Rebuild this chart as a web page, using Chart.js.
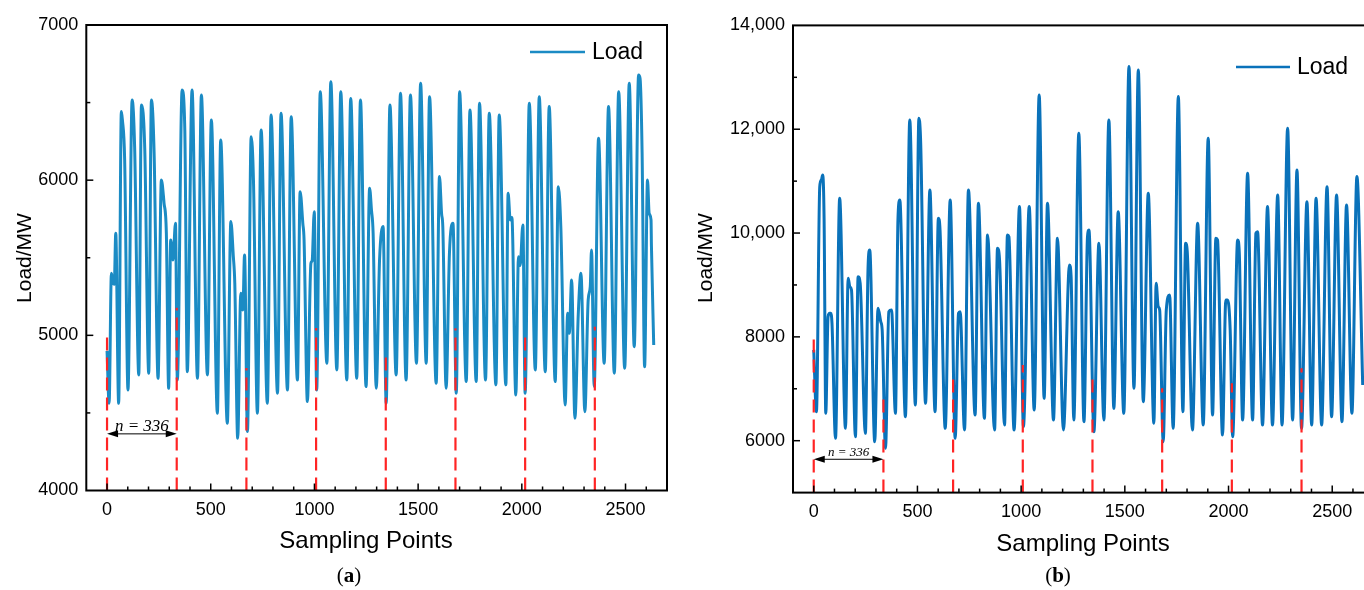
<!DOCTYPE html>
<html><head><meta charset="utf-8">
<script src="https://cdn.jsdelivr.net/npm/chart.js@4.4.1/dist/chart.umd.min.js"></script>
<style>
html,body{margin:0;padding:0;background:#fff;overflow:hidden;width:1364px;height:590px;position:relative}
canvas{position:absolute;top:0}
#ca{left:0}
#cb{left:690px}
.cap{position:absolute;top:563px;font-family:'Liberation Serif','Times New Roman',serif;font-size:21px;color:#000;transform:translateX(-50%);white-space:nowrap}
</style></head><body>
<canvas id="ca" width="690" height="590"></canvas>
<canvas id="cb" width="700" height="590"></canvas>
<div class="cap" style="left:349px">(<b>a</b>)</div>
<div class="cap" style="left:1058px">(<b>b</b>)</div>
<script>
// ---------- data ----------
const loadA_x = [0,10,21,30,35,42,56,69,74,85,101,121,133,153,166,182,201,214,227,246,262,275,286,297,307,318,330,339,362,375,387,410,436,455,484,503,532,548,
580,597,609,616,630,645,655,663,677,695,706,725,743,773,791,822,839,870,888,918,931,944,950,966,983,989,999,1011,1028,1060,1079,1108,1127,1156,1175,1204,
1222,1249,1266,1275,1283,1298,1314,1331,1346,1364,1394,1415,1442,1463,1492,1512,1539,1555,1587,1603,1613,1619,1635,1651,1668,1684,1700,1732,1750,1780,1796,1825,
1843,1875,1891,1923,1934,1944,1952,1971,1984,1992,2005,2016,2036,2065,2084,2113,2132,2161,2176,2188,2209,2221,2229,2240,2256,2272,2285,2304,2320,2330,2336,2349,
2370,2397,2418,2446,2467,2496,2518,2542,2563,2570,2580,2592,2606,2614,2623,2625,2636];
const loadA_y = [4900,4562,5400,5335,5330,5658,4562,6442,6390,6130,4648,6517,6216,4745,6485,6195,4756,6517,6173,4723,6001,5851,5658,4659,5615,5486,5722,4712,6581,6323,4766,6581,4723,6549,4745,6388,4498,6259,
4433,5733,5507,5335,4337,5271,5164,5518,4380,6280,6001,4498,6323,4562,6420,4627,6431,4648,6409,4712,5926,5722,5615,4573,5464,5480,5797,4648,6570,4820,6635,4777,6570,4712,6527,4723,
6517,4670,5948,5808,5658,4659,5486,5701,4562,6485,4745,6560,4712,6549,4820,6624,4820,6538,4691,6023,5786,5700,4659,5529,5722,4627,6570,4702,6452,4702,6495,4712,
6431,4681,6420,4681,5915,5744,5760,4616,5507,5450,5711,4627,6495,4777,6538,4766,6474,4702,5958,5701,4551,5142,5013,5357,4466,5131,5400,4508,5228,5314,5550,4670,
6270,4820,6474,4756,6570,4788,6624,4927,6678,6657,6173,4798,6001,5786,5744,5572,4938];

const loadB_x = [0,13,29,37,43,50,58,69,77,82,88,105,125,153,166,174,182,201,214,224,249,262,270,294,310,323,330,346,362,375,394,406,415,442,463,490,507,516,539,560,
585,601,609,634,658,682,698,706,727,746,778,794,823,838,872,886,896,920,934,941,966,992,1011,1039,1063,1087,1111,1127,1156,1175,1204,
1233,1241,1254,1278,1303,1320,1327,1351,1375,1399,1423,1447,1468,1495,1520,1544,1565,1589,1613,1640,1651,1661,1668,1685,1700,1716,1733,1758,1780,1793,1801,1826,
1851,1878,1902,1923,1939,1947,1971,1987,1995,2008,2020,2044,2052,2068,2092,2116,2132,2140,2164,2188,2212,2237,2258,2285,2309,2330,2352,2378,2401,2422,2449,2475,2497,2521,2547,2569,2595,2619,2647];
const loadB_y = [7750,6559,10894,11023,11119,10252,6527,8389,8454,8454,8261,6045,10669,6238,9128,8967,8903,6077,9160,9030,6141,9353,9674,5981,8550,8293,8132,5852,8486,8518,6527,10252,10637,6462,12179,6687,12211,11697,6719,10830,
6559,10284,10059,6238,10637,6045,8454,8486,6206,10830,6495,10573,6430,9963,6206,9706,9481,6302,9963,9931,6206,10509,6270,10509,6591,12661,6816,10573,6398,9899,6206,
9385,9160,6398,11922,6366,9931,10059,6173,9803,6398,12179,6623,10412,6527,13207,7008,13143,6751,10766,6334,9032,8582,8518,5981,8518,8807,6238,12629,6559,9803,9642,6206,
10188,6302,11826,6495,9899,9867,6109,8711,8711,8132,6077,9867,9610,6398,11151,6398,9995,10027,6302,10509,6302,10734,6302,12018,6398,11215,6238,10605,6302,10669,6302,10894,6462,10734,6366,10541,6527,11087,7073];

const weekMarks = [0,336,672,1008,1344,1680,2016,2352];
const markTopA = [5015,5177,4790,5048,4895,5046,5024,5056];
const markTopB = [8037,6880,7300,7458,7300,7010,7106,7395];

const xTickVals = [0,500,1000,1500,2000,2500];
const xTickLabels = ['0','500','1000','1500','2000','2500'];
const yTickValsA = [4000,5000,6000,7000];
const yTickLabelsA = ['4000','5000','6000','7000'];
const yTickValsB = [6000,8000,10000,12000,14000];
const yTickLabelsB = ['6000','8000','10,000','12,000','14,000'];

// ---------- drawing ----------
const SANS = "'Liberation Sans', Arial, sans-serif";
const SERIF = "'Liberation Serif', 'Times New Roman', serif";

const framePlugin = {
  id: 'frame',
  afterDatasetsDraw(chart, args, o) {
    const {ctx, chartArea: a} = chart;
    const x = chart.scales.x, y = chart.scales.y;
    ctx.save();
    ctx.strokeStyle = '#000';
    ctx.lineWidth = 2;
    ctx.strokeRect(a.left, a.top, a.right - a.left, a.bottom - a.top);
    ctx.lineWidth = 1.5;
    for (let v = x.min; v <= x.max; v += o.xMinor) {
      if (v <= x.min || v >= x.max) continue;
      const px = x.getPixelForValue(v);
      const len = (v % o.xMajor === 0) ? 7 : 4;
      ctx.beginPath(); ctx.moveTo(px, a.bottom); ctx.lineTo(px, a.bottom - len); ctx.stroke();
    }
    for (let v = y.min; v <= y.max; v += o.yMinor) {
      if (v <= y.min || v >= y.max) continue;
      const py = y.getPixelForValue(v);
      const len = (o.yMajorVals.includes(v)) ? 7 : 4;
      ctx.beginPath(); ctx.moveTo(a.left, py); ctx.lineTo(a.left + len, py); ctx.stroke();
    }
    // n = 336 arrow
    const ay = y.getPixelForValue(o.arrowY);
    const x0 = x.getPixelForValue(o.arrowX[0]), x1 = x.getPixelForValue(o.arrowX[1]);
    ctx.lineWidth = 1;
    ctx.beginPath(); ctx.moveTo(x0 + 8, ay); ctx.lineTo(x1 - 8, ay); ctx.stroke();
    ctx.fillStyle = '#000';
    ctx.beginPath(); ctx.moveTo(x0, ay); ctx.lineTo(x0 + 11, ay - 3.5); ctx.lineTo(x0 + 11, ay + 3.5); ctx.closePath(); ctx.fill();
    ctx.beginPath(); ctx.moveTo(x1, ay); ctx.lineTo(x1 - 11, ay - 3.5); ctx.lineTo(x1 - 11, ay + 3.5); ctx.closePath(); ctx.fill();
    ctx.font = 'italic ' + o.arrowFont + 'px ' + SERIF;
    ctx.textAlign = 'center'; ctx.textBaseline = 'alphabetic';
    ctx.fillText('n = 336', (x0 + x1) / 2, ay - 3);
    // legend
    ctx.strokeStyle = o.color; ctx.lineWidth = 2.5;
    ctx.beginPath(); ctx.moveTo(o.legend[0], o.legend[2]); ctx.lineTo(o.legend[1], o.legend[2]); ctx.stroke();
    ctx.fillStyle = '#000';
    ctx.font = '23px ' + SANS;
    ctx.textAlign = 'left'; ctx.textBaseline = 'middle';
    ctx.fillText('Load', o.legend[1] + 7, o.legend[2] + 1);
    // axis titles
    ctx.font = '24px ' + SANS;
    ctx.textAlign = 'center'; ctx.textBaseline = 'middle';
    ctx.fillText('Sampling Points', o.xTitle[0], o.xTitle[1]);
    ctx.save();
    ctx.translate(o.yTitle[0], o.yTitle[1]);
    ctx.rotate(-Math.PI / 2);
    ctx.font = '21px ' + SANS;
    ctx.fillText('Load/MW', 0, 0);
    ctx.restore();
    ctx.restore();
  }
};

function build(id, xs, ys, tops, color, yMin, yMax, yVals, yLabels, pad, yWidth, xHeight, frameOpts) {
  const datasets = weekMarks.map((m, i) => ({
    data: [{x: m, y: yMin}, {x: m, y: tops[i]}],
    borderColor: '#FF2424', borderWidth: 2.2, borderDash: [13, 7], order: 0
  }));
  datasets.push({
    label: 'Load',
    data: xs.map((v, i) => ({x: v, y: ys[i]})),
    borderColor: color, borderWidth: 3, order: 1,
    cubicInterpolationMode: 'monotone'
  });
  frameOpts.color = color;
  return new Chart(document.getElementById(id), {
    type: 'line',
    data: {datasets},
    plugins: [framePlugin],
    options: {
      responsive: false, animation: false, devicePixelRatio: 1,
      layout: {padding: pad},
      elements: {point: {radius: 0}, line: {tension: 0, borderJoinStyle: 'round', borderCapStyle: 'butt'}},
      plugins: {legend: {display: false}, tooltip: {enabled: false}, frame: frameOpts},
      scales: {
        x: {
          type: 'linear', min: -100, max: 2700,
          grid: {display: false, drawTicks: false}, border: {display: false},
          afterBuildTicks: s => { s.ticks = xTickVals.map(v => ({value: v})); },
          afterFit: s => { s.height = xHeight; },
          ticks: {font: {family: SANS, size: 18}, color: '#000', padding: 9, maxRotation: 0, autoSkip: false,
                  callback: (v, i) => xTickLabels[i]}
        },
        y: {
          type: 'linear', min: yMin, max: yMax,
          grid: {display: false, drawTicks: false}, border: {display: false},
          afterBuildTicks: s => { s.ticks = yVals.map(v => ({value: v})); },
          afterFit: s => { s.width = yWidth; },
          ticks: {font: {family: SANS, size: 18}, color: '#000', padding: 8, autoSkip: false,
                  callback: (v, i) => yLabels[i]}
        }
      }
    }
  });
}

build('ca', loadA_x, loadA_y, markTopA, '#1B8BC4', 4000, 7000, yTickValsA, yTickLabelsA,
  {top: 25, right: 23, left: 0, bottom: 0}, 86.3, 99.5,
  {xMinor: 100, xMajor: 500, yMinor: 500, yMajorVals: yTickValsA, arrowY: 4365, arrowX: [0, 336], arrowFont: 17,
   legend: [530, 585, 52], xTitle: [366, 541], yTitle: [25, 258]});

build('cb', loadB_x, loadB_y, markTopB, '#0A72BA', 5000, 14000, yTickValsB, yTickLabelsB,
  {top: 25.4, right: 16.3, left: 0, bottom: 0}, 103, 97.4,
  {xMinor: 100, xMajor: 500, yMinor: 1000, yMajorVals: yTickValsB, arrowY: 5642, arrowX: [0, 336], arrowFont: 13,
   legend: [546, 600, 67], xTitle: [393, 544], yTitle: [16, 258]});
</script>
</body></html>
